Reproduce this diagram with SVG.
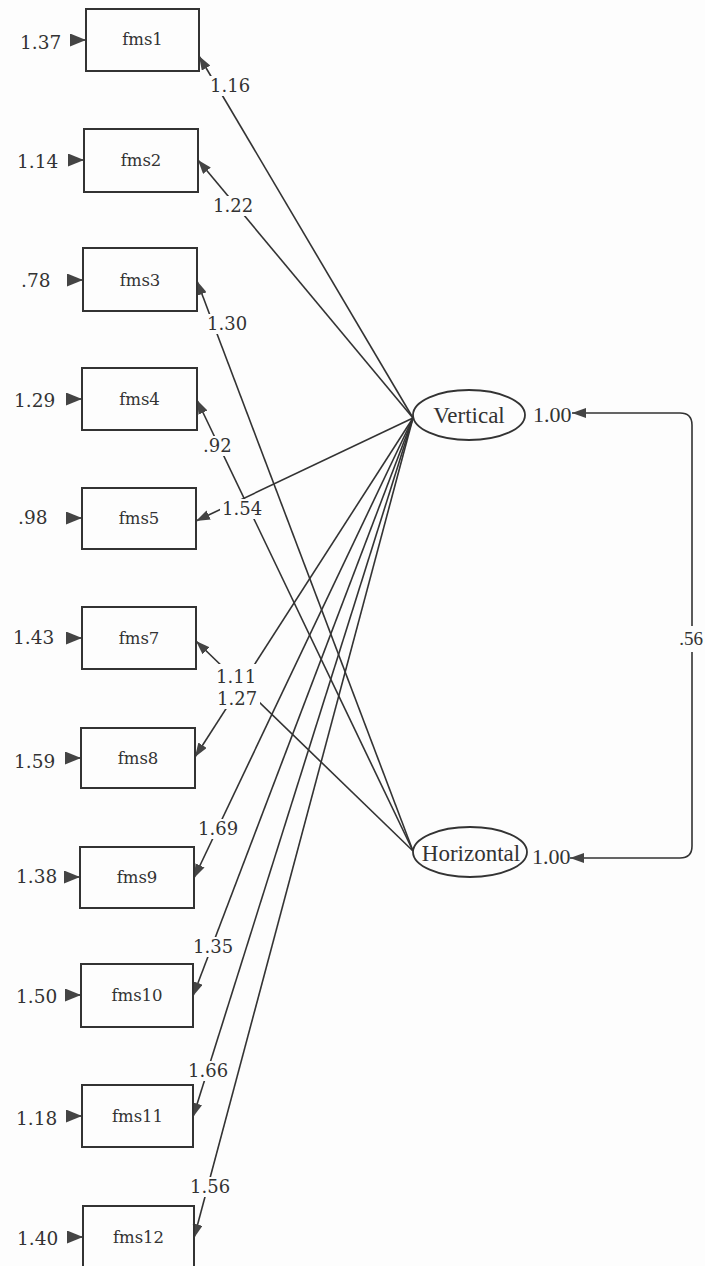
<svg xmlns="http://www.w3.org/2000/svg" width="705" height="1266" viewBox="0 0 705 1266">
<defs>
<style>
.box{fill:none;stroke:#333;stroke-width:2}
.ell{fill:none;stroke:#333;stroke-width:1.8}
.con{fill:none;stroke:#333;stroke-width:1.6}
.nl{font-family:"DejaVu Serif",serif;font-size:16.5px;fill:#333;text-anchor:middle}
.num{font-family:"DejaVu Serif",serif;font-size:18px;fill:#333}
.err{font-family:"DejaVu Serif",serif;font-size:18.5px;fill:#333}
.lat{font-family:"Liberation Serif",serif;font-size:23px;fill:#333;text-anchor:middle}
.var{font-family:"Liberation Serif",serif;font-size:22px;fill:#333}
.cov{font-family:"Liberation Serif",serif;font-size:19px;fill:#333;text-anchor:end}
.bg{fill:#fdfdfd}
</style>
<marker id="ah" markerUnits="userSpaceOnUse" markerWidth="14" markerHeight="10" refX="14" refY="5" orient="auto"><path d="M0,0 L14,5 L0,10 z" fill="#444"/></marker>
<marker id="ahc" markerUnits="userSpaceOnUse" markerWidth="14" markerHeight="10" refX="14" refY="5" orient="auto-start-reverse"><path d="M0,0 L14,5 L0,10 z" fill="#444"/></marker>
<marker id="ae" markerUnits="userSpaceOnUse" markerWidth="16" markerHeight="13" refX="16" refY="6.5" orient="auto"><path d="M0,0 L16,6.5 L0,13 z" fill="#444"/></marker>
</defs>
<rect x="0" y="0" width="705" height="1266" fill="#fdfdfd"/>

<g id="connectors">
<!-- loadings from Vertical -->
<line class="con" x1="413" y1="418" x2="199" y2="56" marker-end="url(#ah)"/>
<line class="con" x1="413" y1="418" x2="198" y2="160" marker-end="url(#ah)"/>
<line class="con" x1="413" y1="418" x2="196" y2="521" marker-end="url(#ah)"/>
<line class="con" x1="413" y1="418" x2="195" y2="757" marker-end="url(#ah)"/>
<line class="con" x1="413" y1="418" x2="194" y2="878" marker-end="url(#ah)"/>
<line class="con" x1="413" y1="418" x2="193" y2="996" marker-end="url(#ah)"/>
<line class="con" x1="413" y1="418" x2="193" y2="1117" marker-end="url(#ah)"/>
<line class="con" x1="413" y1="418" x2="194" y2="1238" marker-end="url(#ah)"/>
<!-- loadings from Horizontal -->
<line class="con" x1="413" y1="851" x2="197" y2="281" marker-end="url(#ah)"/>
<line class="con" x1="413" y1="851" x2="197" y2="400" marker-end="url(#ah)"/>
<line class="con" x1="413" y1="851" x2="196" y2="641" marker-end="url(#ah)"/>
<!-- covariance -->
<path class="con" d="M572,413 H680 Q692,413 692,425 V846 Q692,858 680,858 H570" marker-start="url(#ahc)" marker-end="url(#ahc)"/>
<!-- error arrows -->
<line class="con" x1="70" y1="40" x2="86" y2="40" marker-end="url(#ae)"/>
<line class="con" x1="68" y1="160" x2="84" y2="160" marker-end="url(#ae)"/>
<line class="con" x1="67" y1="280" x2="83" y2="280" marker-end="url(#ae)"/>
<line class="con" x1="66" y1="399" x2="82" y2="399" marker-end="url(#ae)"/>
<line class="con" x1="66" y1="518" x2="82" y2="518" marker-end="url(#ae)"/>
<line class="con" x1="66" y1="638" x2="82" y2="638" marker-end="url(#ae)"/>
<line class="con" x1="65" y1="758" x2="81" y2="758" marker-end="url(#ae)"/>
<line class="con" x1="64" y1="877" x2="80" y2="877" marker-end="url(#ae)"/>
<line class="con" x1="65" y1="995" x2="81" y2="995" marker-end="url(#ae)"/>
<line class="con" x1="66" y1="1116" x2="82" y2="1116" marker-end="url(#ae)"/>
<line class="con" x1="67" y1="1237" x2="83" y2="1237" marker-end="url(#ae)"/>
<!-- label backgrounds -->
<rect class="bg" x="208" y="76" width="44" height="20"/>
<rect class="bg" x="211" y="196" width="44" height="20"/>
<rect class="bg" x="205" y="314" width="44" height="20"/>
<rect class="bg" x="201" y="436" width="33" height="20"/>
<rect class="bg" x="220" y="499" width="44" height="20"/>
<rect class="bg" x="214" y="664" width="46" height="45"/>
<rect class="bg" x="196" y="819" width="44" height="20"/>
<rect class="bg" x="191" y="937" width="44" height="20"/>
<rect class="bg" x="186" y="1061" width="46" height="20"/>
<rect class="bg" x="188" y="1177" width="44" height="20"/>
<rect class="bg" x="680" y="626" width="25" height="26"/>
<!-- loading labels -->
<text class="num" x="210" y="92">1.16</text>
<text class="num" x="213" y="212">1.22</text>
<text class="num" x="207" y="330">1.30</text>
<text class="num" x="203" y="452">.92</text>
<text class="num" x="222" y="515">1.54</text>
<text class="num" x="216" y="683">1.11</text>
<text class="num" x="217" y="705">1.27</text>
<text class="num" x="198" y="835">1.69</text>
<text class="num" x="193" y="953">1.35</text>
<text class="num" x="188" y="1077">1.66</text>
<text class="num" x="190" y="1193">1.56</text>
<text class="cov" x="703" y="645">.56</text>
</g>

<g id="fms1"><rect class="box" x="86" y="9" width="113" height="62"/><text class="nl" x="142.5" y="45">fms1</text><text class="err" x="20" y="49">1.37</text></g>
<g id="fms2"><rect class="box" x="84" y="129" width="114" height="63"/><text class="nl" x="141" y="166">fms2</text><text class="err" x="17" y="168">1.14</text></g>
<g id="fms3"><rect class="box" x="83" y="248" width="114" height="63"/><text class="nl" x="140" y="286">fms3</text><text class="err" x="21" y="287">.78</text></g>
<g id="fms4"><rect class="box" x="82" y="368" width="115" height="62"/><text class="nl" x="139.5" y="405">fms4</text><text class="err" x="14" y="407">1.29</text></g>
<g id="fms5"><rect class="box" x="82" y="488" width="114" height="61"/><text class="nl" x="139" y="524">fms5</text><text class="err" x="18" y="524">.98</text></g>
<g id="fms7"><rect class="box" x="82" y="607" width="114" height="62"/><text class="nl" x="139" y="644">fms7</text><text class="err" x="13" y="644">1.43</text></g>
<g id="fms8"><rect class="box" x="81" y="728" width="114" height="60"/><text class="nl" x="138" y="764">fms8</text><text class="err" x="14" y="768">1.59</text></g>
<g id="fms9"><rect class="box" x="80" y="847" width="114" height="61"/><text class="nl" x="137" y="883">fms9</text><text class="err" x="16" y="883">1.38</text></g>
<g id="fms10"><rect class="box" x="81" y="964" width="112" height="63"/><text class="nl" x="137" y="1001">fms10</text><text class="err" x="16" y="1003">1.50</text></g>
<g id="fms11"><rect class="box" x="82" y="1085" width="111" height="62"/><text class="nl" x="137.5" y="1122">fms11</text><text class="err" x="16" y="1125">1.18</text></g>
<g id="fms12"><rect class="box" x="83" y="1206" width="111" height="62"/><text class="nl" x="138.5" y="1243">fms12</text><text class="err" x="17" y="1245">1.40</text></g>

<g id="Vertical"><ellipse class="ell" cx="469" cy="415" rx="56" ry="25"/><text class="lat" x="469" y="423">Vertical</text><text class="var" x="533" y="422">1.00</text></g>
<g id="Horizontal"><ellipse class="ell" cx="470" cy="852" rx="57" ry="25"/><text class="lat" x="471" y="861">Horizontal</text><text class="var" x="532" y="864">1.00</text></g>
</svg>
